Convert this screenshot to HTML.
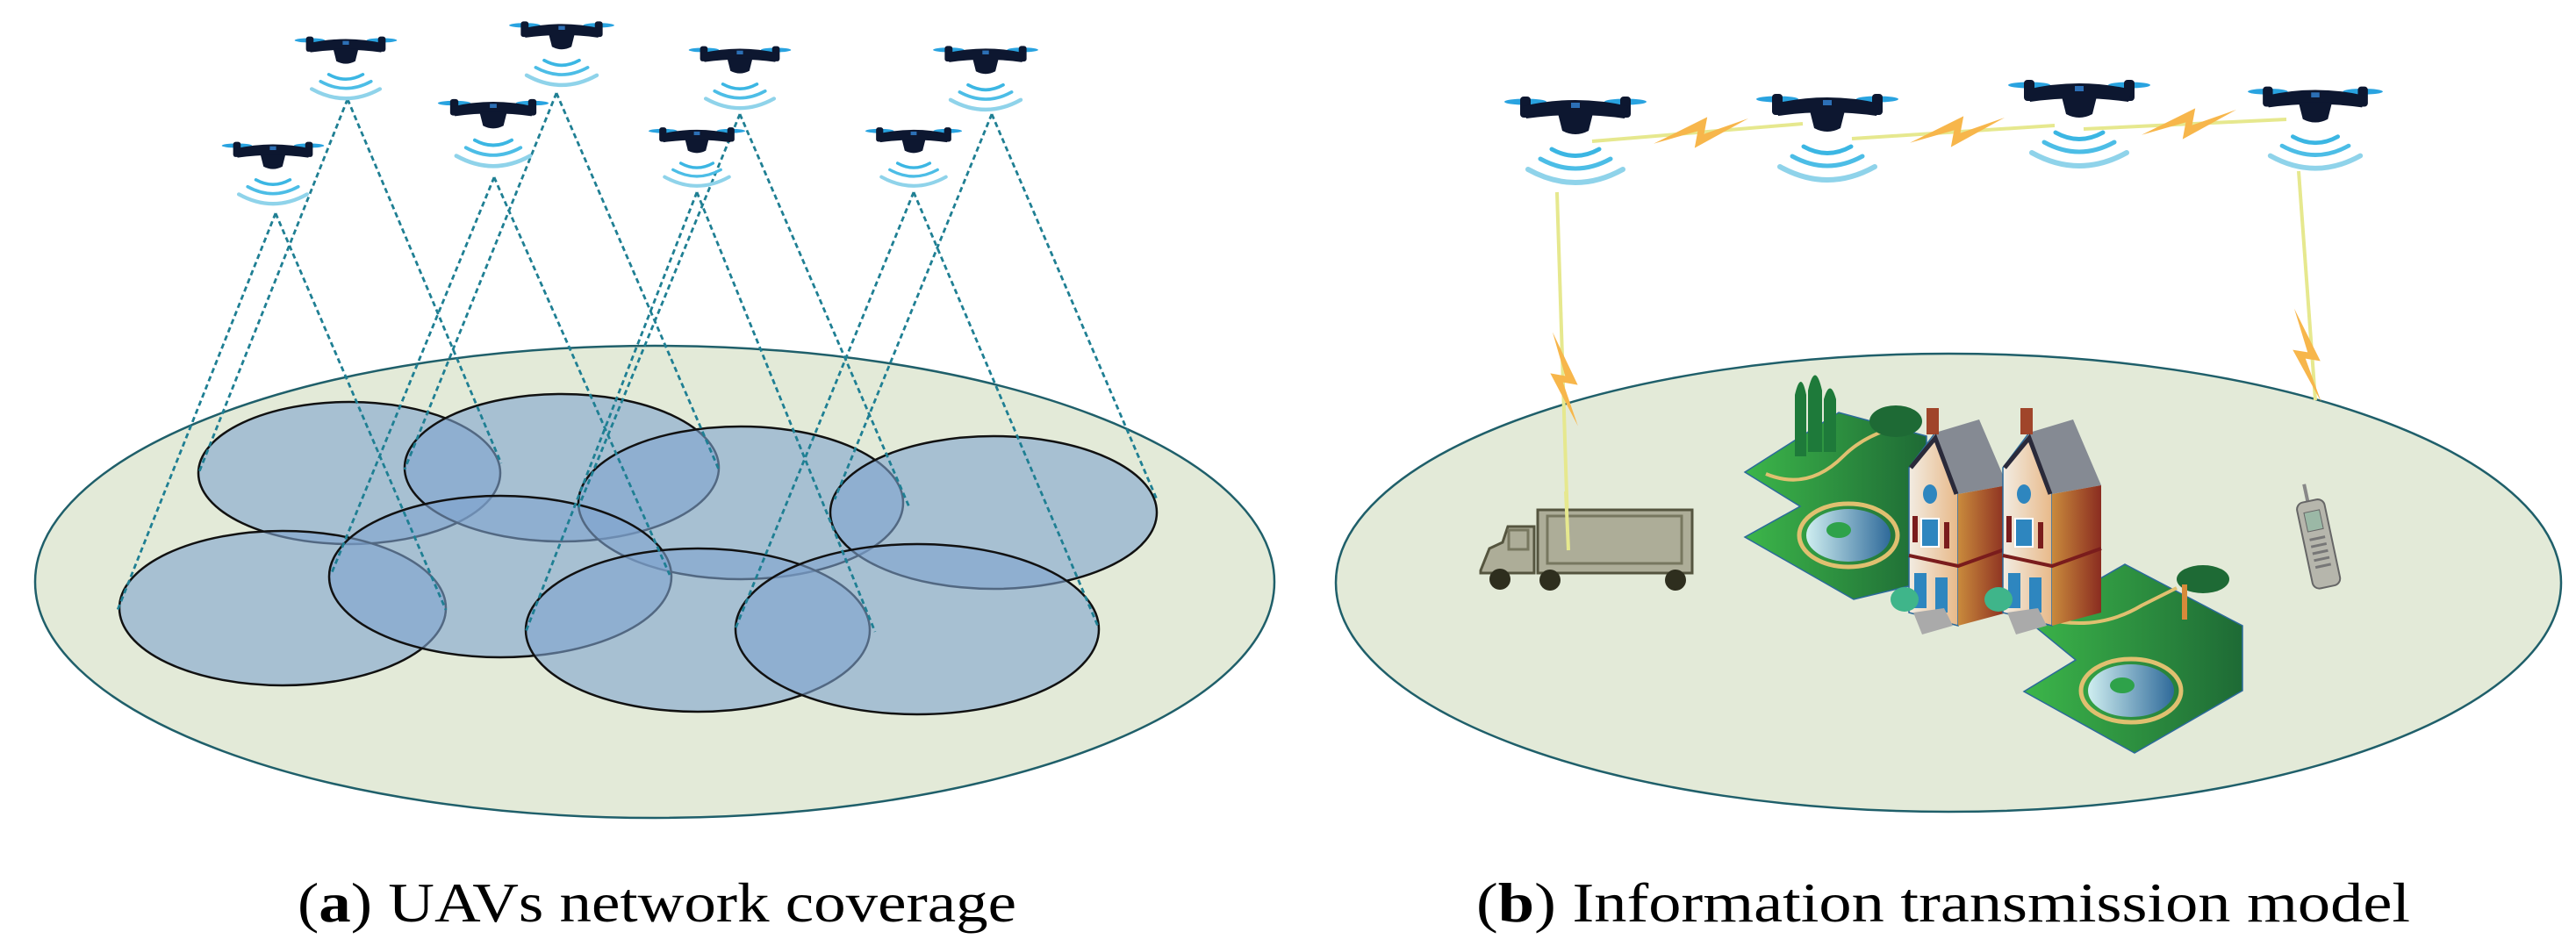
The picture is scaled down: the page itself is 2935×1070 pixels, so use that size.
<!DOCTYPE html>
<html><head><meta charset="utf-8"><style>
html,body{margin:0;padding:0;background:#fff}
svg{display:block}
text{font-family:"Liberation Serif",serif;fill:#000}
</style></head><body>
<svg width="2935" height="1070" viewBox="0 0 2935 1070" xmlns="http://www.w3.org/2000/svg">
<defs>
<g id="drone">
 <ellipse cx="-57" cy="-7" rx="24" ry="3.5" fill="#29a3e0"/>
 <ellipse cx="57" cy="-7" rx="24" ry="3.5" fill="#29a3e0"/>
 <rect x="-63" y="-13" width="12" height="24" rx="4" fill="#0d1730"/>
 <rect x="51" y="-13" width="12" height="24" rx="4" fill="#0d1730"/>
 <path d="M-60,-2 Q0,-16 60,-2 L56,12 Q0,4 -56,12 Z" fill="#0d1730"/>
 <path d="M-20,6 L20,6 L15,26 Q0,34 -15,26 Z" fill="#0d1730"/>
 <rect x="-5" y="-6" width="10" height="6" fill="#2c6fb5"/>
 <path d="M-27,47 Q0,62 27,47" fill="none" stroke="#3bb6e3" stroke-width="5" stroke-linecap="round"/>
 <path d="M-40,58 Q0,80 40,58" fill="none" stroke="#4cbde6" stroke-width="5" stroke-linecap="round"/>
 <path d="M-54,70 Q0,100 54,70" fill="none" stroke="#8fd3ea" stroke-width="6" stroke-linecap="round"/>
</g>
<path id="bolt" d="M-30,8 L4,-11 L2,1 L30,-10 L-4,11 L-2,-1 Z" fill="#f7b64b"/>
<linearGradient id="pond" x1="0" x2="1"><stop offset="0" stop-color="#cfeef0"/><stop offset="1" stop-color="#2f6a9a"/></linearGradient>
<linearGradient id="grass" x1="0" x2="1"><stop offset="0" stop-color="#3cb64a"/><stop offset="1" stop-color="#1e6a35"/></linearGradient>
<linearGradient id="side" x1="0" x2="1"><stop offset="0" stop-color="#c98a3c"/><stop offset="1" stop-color="#8a2c20"/></linearGradient>
<linearGradient id="front" x1="0" x2="1"><stop offset="0" stop-color="#f2ece2"/><stop offset="1" stop-color="#e8b989"/></linearGradient>
<g id="house">
 <polygon points="0,40 30,0 56,70 56,220 0,205" fill="url(#front)" stroke="#2b6a9a" stroke-width="1.5"/>
 <polygon points="30,0 80,-15 112,60 56,70" fill="#858a93"/>
 <polygon points="56,70 112,60 112,205 56,220" fill="url(#side)"/>
 <rect x="20" y="-28" width="14" height="30" fill="#a0452a"/>
 <path d="M2,40 L30,6 L54,70" fill="none" stroke="#2a2a3a" stroke-width="5"/>
 <ellipse cx="24" cy="70" rx="8" ry="11" fill="#2e86bf"/>
 <rect x="14" y="98" width="20" height="32" fill="#2e86bf" stroke="#fff" stroke-width="2"/>
 <rect x="4" y="95" width="6" height="30" fill="#7a1c1c"/>
 <rect x="40" y="102" width="6" height="30" fill="#7a1c1c"/>
 <path d="M0,140 L56,152 L112,132" fill="none" stroke="#7a1c1c" stroke-width="4"/>
 <rect x="6" y="160" width="14" height="40" fill="#2e86bf"/>
 <rect x="30" y="165" width="14" height="40" fill="#2e86bf"/>
 <ellipse cx="-5" cy="190" rx="16" ry="14" fill="#3fb58a"/>
 <polygon points="5,205 40,200 50,220 15,230" fill="#aaa"/>
</g>
</defs>

<!-- LEFT PANEL -->
<ellipse cx="746" cy="663" rx="706" ry="269" fill="#e3ead8" stroke="#1f5f6a" stroke-width="2.5"/>
<g stroke="#111" stroke-width="2.5" fill="#7fa4cf" fill-opacity="0.6">
 <ellipse cx="398" cy="539" rx="172" ry="81"/>
 <ellipse cx="640" cy="533" rx="179" ry="84"/>
 <ellipse cx="844" cy="573" rx="185" ry="87"/>
 <ellipse cx="1132" cy="584" rx="186" ry="87"/>
 <ellipse cx="322" cy="693" rx="186" ry="88"/>
 <ellipse cx="570" cy="657" rx="195" ry="92"/>
 <ellipse cx="795" cy="718" rx="196" ry="93"/>
 <ellipse cx="1045" cy="717" rx="207" ry="97"/>
</g>
<g stroke="#1f7f93" stroke-width="2.8" stroke-dasharray="6,4" fill="none">
 <path d="M314,243 L134,695 M314,243 L508,695"/>
 <path d="M396,113 L226,540 M396,113 L571,528"/>
 <path d="M563,202 L377,655 M563,202 L763,655"/>
 <path d="M634,106 L461,535 M634,106 L819,535"/>
 <path d="M794,219 L599,720 M794,219 L997,720"/>
 <path d="M843,130 L659,578 M843,130 L1036,578"/>
 <path d="M1041,219 L838,716 M1041,219 L1252,716"/>
 <path d="M1130,130 L951,569 M1130,130 L1318,569"/>
</g>
<use href="#drone" transform="translate(311,171) scale(0.72)"/>
<use href="#drone" transform="translate(394,51) scale(0.72)"/>
<use href="#drone" transform="translate(562,123) scale(0.78)"/>
<use href="#drone" transform="translate(640,34) scale(0.74)"/>
<use href="#drone" transform="translate(794,154) scale(0.68)"/>
<use href="#drone" transform="translate(843,62) scale(0.72)"/>
<use href="#drone" transform="translate(1041,154) scale(0.68)"/>
<use href="#drone" transform="translate(1123,62) scale(0.74)"/>
<text x="339" y="1050" font-size="64" textLength="819" lengthAdjust="spacingAndGlyphs">(<tspan font-weight="bold">a</tspan>)  UAVs network coverage</text>

<!-- RIGHT PANEL -->
<ellipse cx="2220" cy="664" rx="698" ry="261" fill="#e3ead8" stroke="#1f5f6a" stroke-width="2.5"/>
<g stroke="#e6e88e" stroke-width="4">
 <line x1="1814" y1="161" x2="2054" y2="141"/>
 <line x1="2110" y1="158" x2="2341" y2="143"/>
 <line x1="2374" y1="147" x2="2605" y2="136"/>
 <line x1="1774" y1="219" x2="1787" y2="627"/>
 <line x1="2619" y1="195" x2="2638" y2="456"/>
</g>
<use href="#bolt" transform="translate(1938,151) scale(1.8,1.6)"/>
<use href="#bolt" transform="translate(2230,150) scale(1.8,1.6)"/>
<use href="#bolt" transform="translate(2494,141) scale(1.8,1.6)"/>
<use href="#bolt" transform="translate(1782,432) rotate(88) scale(1.8,1.4)"/>
<use href="#bolt" transform="translate(2628,405) rotate(87) scale(1.8,1.4)"/>
<use href="#drone" transform="translate(1795,123)"/>
<use href="#drone" transform="translate(2082,120)"/>
<use href="#drone" transform="translate(2369,104)"/>
<use href="#drone" transform="translate(2638,111) scale(0.95)"/>

<!-- truck -->
<g stroke="#55553f" stroke-width="3">
 <rect x="1752" y="581" width="176" height="72" fill="#adad98"/>
 <rect x="1763" y="588" width="153" height="54" fill="#adad98" stroke="#77775f"/>
 <path d="M1748,600 L1718,600 L1712,618 L1697,625 L1687,650 L1687,653 L1748,653 Z" fill="#adad98"/>
 <rect x="1719" y="604" width="22" height="22" fill="#adad98" stroke="#77775f"/>
</g>
<g fill="#2e2e1e">
 <circle cx="1709" cy="660" r="12"/><circle cx="1766" cy="661" r="12"/><circle cx="1909" cy="661" r="12"/>
</g>
<line x1="1784" y1="560" x2="1787" y2="627" stroke="#e6e88e" stroke-width="4"/>

<!-- parks -->
<polygon points="1988,538 2095,470 2195,497 2195,663 2112,683 1988,612 2051,577" fill="url(#grass)" stroke="#2b6a9a" stroke-width="1.5"/>
<ellipse cx="2106" cy="610" rx="56" ry="36" fill="none" stroke="#e0c070" stroke-width="5"/>
<ellipse cx="2106" cy="610" rx="48" ry="30" fill="url(#pond)"/>
<ellipse cx="2095" cy="604" rx="14" ry="9" fill="#2ea24a"/>
<path d="M2012,540 Q2060,560 2100,520 Q2120,500 2150,490" fill="none" stroke="#e0c070" stroke-width="4"/>
<path d="M2045,450 Q2052,420 2058,450 L2058,520 L2045,520 Z M2060,445 Q2068,410 2076,445 L2076,515 L2060,515 Z M2078,455 Q2085,430 2092,455 L2092,515 L2078,515 Z" fill="#1e7a3a"/>
<ellipse cx="2160" cy="480" rx="30" ry="18" fill="#1e6a35"/>
<polygon points="2310,707 2421,643 2555,713 2555,787 2432,858 2306,788 2365,752" fill="url(#grass)" stroke="#2b6a9a" stroke-width="1.5"/>
<ellipse cx="2428" cy="787" rx="57" ry="36" fill="none" stroke="#e0c070" stroke-width="5"/>
<ellipse cx="2428" cy="787" rx="49" ry="30" fill="url(#pond)"/>
<ellipse cx="2418" cy="781" rx="14" ry="9" fill="#2ea24a"/>
<path d="M2330,705 Q2390,720 2440,690 Q2460,680 2480,670" fill="none" stroke="#e0c070" stroke-width="4"/>
<ellipse cx="2510" cy="660" rx="30" ry="16" fill="#1e6a35"/>
<rect x="2486" y="666" width="6" height="40" fill="#d88a3a"/>
<use href="#house" transform="translate(2175,493)"/>
<use href="#house" transform="translate(2282,493)"/>

<!-- phone -->
<g transform="translate(2640,612) rotate(-12)">
 <rect x="-4" y="-62" width="4" height="22" fill="#888"/>
 <rect x="-16" y="-42" width="32" height="100" rx="8" fill="#b6b6ac" stroke="#666" stroke-width="2"/>
 <rect x="-9" y="-30" width="18" height="22" fill="#9bb8a6" stroke="#666"/>
 <g fill="#777"><rect x="-9" y="0" width="18" height="3"/><rect x="-9" y="8" width="18" height="3"/><rect x="-9" y="16" width="18" height="3"/><rect x="-9" y="24" width="18" height="3"/><rect x="-9" y="32" width="18" height="3"/></g>
</g>
<text x="1682" y="1050" font-size="64" textLength="1064" lengthAdjust="spacingAndGlyphs">(<tspan font-weight="bold">b</tspan>)  Information transmission model</text>
</svg>
</body></html>
